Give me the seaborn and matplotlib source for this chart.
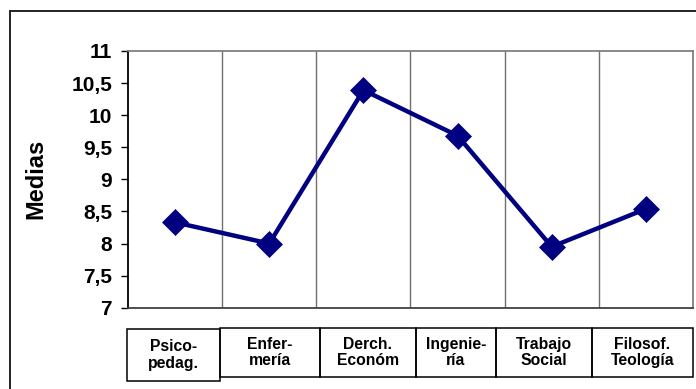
import matplotlib
matplotlib.use("Agg")
import matplotlib.pyplot as plt
import seaborn as sns
import pandas as pd
from matplotlib.patches import Rectangle

# Mean scores per degree programme
carreras = ["Psico-\npedag.", "Enfer-\nmería", "Derch.\nEconóm", "Ingenie-\nría", "Trabajo\nSocial", "Filosof.\nTeología"]
medias = [8.33, 8.0, 10.39, 9.68, 7.95, 8.54]
y_ticks = [7, 7.5, 8, 8.5, 9, 9.5, 10, 10.5, 11]
y_tick_labels = ["7", "7,5", "8", "8,5", "9", "9,5", "10", "10,5", "11"]

sns.set_theme(style="white")
plt.rcParams["font.family"] = ["Liberation Sans", "DejaVu Sans"]
plt.rcParams["font.weight"] = "bold"

W, H = 696, 389
fig = plt.figure(figsize=(W / 100, H / 100), dpi=100)
fig.patch.set_facecolor("white")

def fx(px):
    return px / W

def fy(py):
    return 1 - py / H

ax = fig.add_axes([fx(128), fy(307.7), fx(693) - fx(128), fy(51) - fy(307.7)])

df = pd.DataFrame({"pos": range(len(medias)), "media": medias})
sns.lineplot(data=df, x="pos", y="media", ax=ax, color="#000080", linewidth=3.2,
             marker="D", markersize=13, markeredgecolor="#000080", markeredgewidth=0.5)

ax.set_xlim(-0.5, len(medias) - 0.5)
ax.set_ylim(7, 11)
ax.set_yticks(y_ticks)
ax.set_yticklabels(y_tick_labels, fontsize=15, fontweight="bold", color="black")
ax.set_xticks([])
ax.set_xlabel("")
ax.set_ylabel("Medias", fontsize=17, fontweight="bold", color="black")
ax.yaxis.set_label_coords((47.5 - 128) / (693 - 128), 0.5)

# Category separators
for i in range(1, len(medias)):
    ax.axvline(i - 0.5, color="#707070", linewidth=1.0, zorder=0)

ax.tick_params(axis="y", left=True, length=5, width=1, color="black", pad=6.5, labelcolor="black")
for side, col in [("left", "black"), ("bottom", "#404040"), ("top", "#808080"), ("right", "#808080")]:
    ax.spines[side].set_visible(True)
    ax.spines[side].set_color(col)
    ax.spines[side].set_linewidth(1.3)

# Outer chart frame
fig.add_artist(Rectangle((fx(10), fy(400)), fx(700) - fx(10), fy(11) - fy(400),
                         transform=fig.transFigure, fill=False, edgecolor="#222222",
                         linewidth=1.4, clip_on=False))

# Category label table
edges = [127, 220, 320, 416, 496, 592, 693]
for i, lab in enumerate(carreras):
    x0, x1 = edges[i], edges[i + 1]
    top, bot = (329, 381) if i == 0 else (328, 377)
    fig.add_artist(Rectangle((fx(x0), fy(bot)), fx(x1) - fx(x0), fy(top) - fy(bot),
                             transform=fig.transFigure, fill=False, edgecolor="black",
                             linewidth=1.1))
    fig.text(fx((x0 + x1) / 2), fy((top + bot) / 2), lab, ha="center", va="center",
             fontsize=11.3, fontweight="bold", linespacing=1.1, color="black")

fig.savefig("out.png", dpi=100, facecolor="white")
